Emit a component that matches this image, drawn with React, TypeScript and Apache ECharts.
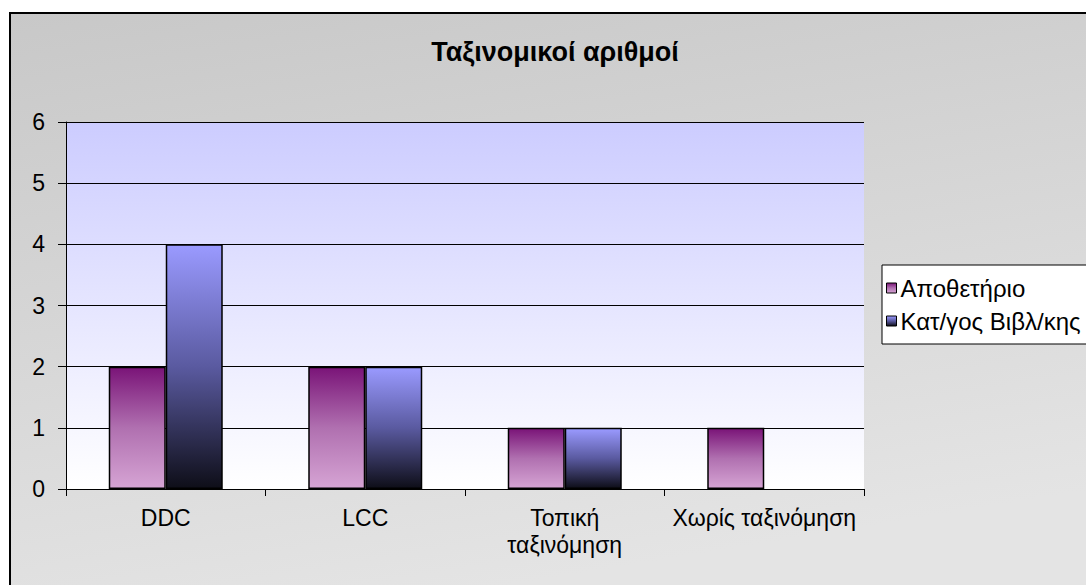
import React, { useEffect, useRef } from "react";
import * as echarts from "echarts";

const categories = ["DDC", "LCC", "Τοπική\nταξινόμηση", "Χωρίς ταξινόμηση"];
const repoValues = [2, 2, 1, 1];
const catalogValues = [4, 2, 1, 0];
const seriesNames = ["Αποθετήριο", "Κατ/γος Βιβλ/κης"];
const title = "Ταξινομικοί αριθμοί";

const FONT = "Liberation Sans";

export default function App() {
  const ref = useRef<HTMLDivElement>(null);
  useEffect(() => {
    const chart = echarts.init(ref.current!, undefined, { renderer: "svg" });
    const purple = new echarts.graphic.LinearGradient(0, 0, 0, 1, [
      { offset: 0, color: "#7a1478" },
      { offset: 0.5, color: "#b070b0" },
      { offset: 1, color: "#d6a4d4" },
    ]);
    const blue = new echarts.graphic.LinearGradient(0, 0, 0, 1, [
      { offset: 0, color: "#9a9aff" },
      { offset: 0.5, color: "#5a5aa0" },
      { offset: 1, color: "#0e0e18" },
    ]);
    const toData = (arr: number[]) =>
      arr.map((v) => (v === 0 ? { value: v, itemStyle: { borderWidth: 0, opacity: 0 } } : v));
    chart.setOption({
      animation: false,
      graphic: [
        {
          type: "rect",
          left: 9,
          top: 12,
          shape: { width: 1100, height: 600 },
          style: {
            fill: new echarts.graphic.LinearGradient(0, 0, 0.3, 1, [
              { offset: 0, color: "#c8c8c8" },
              { offset: 1, color: "#e4e4e4" },
            ]),
            stroke: "#000",
            lineWidth: 2,
          },
          z: -10,
        },
        {
          type: "rect",
          left: 66,
          top: 122,
          shape: { width: 798, height: 367 },
          style: {
            fill: new echarts.graphic.LinearGradient(0, 0, 0, 1, [
              { offset: 0, color: "#ccccff" },
              { offset: 1, color: "#ffffff" },
            ]),
          },
          z: -9,
        },
      ],
      title: {
        text: title,
        left: 550,
        top: 33,
        textAlign: "center",
        textStyle: { fontFamily: FONT, fontSize: 27, fontWeight: "bold", color: "#000" },
      },
      legend: {
        left: 882,
        top: 265,
        orient: "vertical",
        backgroundColor: "#fff",
        borderColor: "#000",
        borderWidth: 1,
        borderRadius: 0,
        padding: [11, 30, 11, 4],
        itemGap: 9,
        itemWidth: 10,
        itemHeight: 10,
        icon: "rect",
        textStyle: { fontFamily: FONT, fontSize: 24, color: "#000", padding: [0, 0, 0, -1] },
        data: [
          { name: seriesNames[0], itemStyle: { color: purple, borderColor: "#000", borderWidth: 1 } },
          { name: seriesNames[1], itemStyle: { color: blue, borderColor: "#000", borderWidth: 1 } },
        ],
      },
      grid: { left: 66, right: 222, top: 122, bottom: 96, containLabel: false },
      xAxis: {
        type: "category",
        data: categories,
        axisLine: { lineStyle: { color: "#000", width: 1 } },
        axisTick: { show: true, length: 7, lineStyle: { color: "#000" } },
        axisLabel: {
          fontFamily: FONT,
          fontSize: 23,
          color: "#000",
          margin: 15,
          lineHeight: 27,
          interval: 0,
        },
      },
      yAxis: {
        type: "value",
        min: 0,
        max: 6,
        interval: 1,
        axisLine: { show: true, lineStyle: { color: "#000", width: 1 } },
        axisTick: { show: true, length: 8, lineStyle: { color: "#000" } },
        axisLabel: { fontFamily: FONT, fontSize: 23, color: "#000", margin: 21 },
        splitLine: { show: true, lineStyle: { color: "#000", width: 1 } },
      },
      series: [
        {
          name: seriesNames[0],
          type: "bar",
          data: toData(repoValues),
          barWidth: 57,
          barGap: "0%",
          itemStyle: { color: purple, borderColor: "#000", borderWidth: 1.5 },
        },
        {
          name: seriesNames[1],
          type: "bar",
          data: toData(catalogValues),
          barWidth: 57,
          barGap: "0%",
          itemStyle: { color: blue, borderColor: "#000", borderWidth: 1.5 },
        },
      ],
    });
    return () => chart.dispose();
  }, []);
  return (
    <div
      ref={ref}
      style={{ position: "absolute", left: 0, top: 0, width: 1086, height: 585 }}
    />
  );
}
